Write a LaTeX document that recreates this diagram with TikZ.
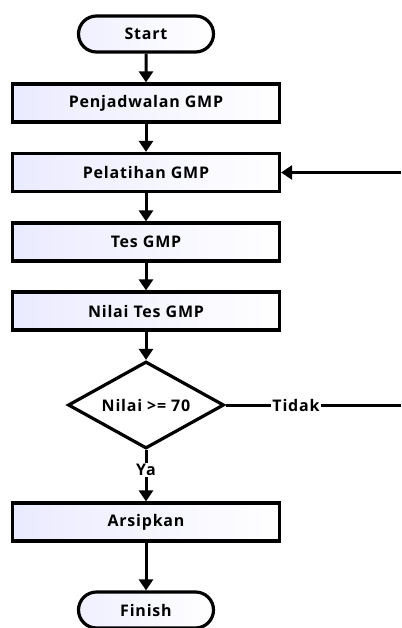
\documentclass[tikz,border=0pt]{standalone}
\usepackage{fontspec}
\setmainfont{Open Sans}
\newfontfamily\lblfont[LetterSpace=5]{Open Sans}
\usetikzlibrary{shapes.geometric,shapes.misc,arrows.meta}
\tikzset{
  txt/.style={font=\lblfont\bfseries\fontsize{16}{18}\selectfont},
  base/.style={draw=black,line width=3.2pt,txt,text=black,inner sep=0pt},
  proc/.style={base,rectangle,minimum width=267pt,minimum height=38pt,left color=blue!8,right color=white},
  term/.style={base,rounded rectangle,minimum width=135pt,minimum height=36pt,left color=blue!6,right color=white},
  dec/.style={base,diamond,aspect=1.8,minimum width=156pt,minimum height=87pt,fill=white},
  lbl/.style={txt,inner sep=1pt},
  arr/.style={line width=3pt,-{Triangle[length=11pt,width=14pt]}},
  ln/.style={line width=3pt}
}
\begin{document}
\begin{tikzpicture}[x=1pt,y=-1pt]
\useasboundingbox (0,0) rectangle (401,628);
\node[term] (start) at (146,34) {Start};
\node[proc] (jad) at (146,103) {Penjadwalan GMP};
\node[proc] (pel) at (146,172.5) {Pelatihan GMP};
\node[proc] (tes) at (146,242) {Tes GMP};
\node[proc] (nil) at (146,311) {Nilai Tes GMP};
\node[dec] (dec) at (146,405) {Nilai >= 70};
\node[lbl] (tidak) at (296,405) {Tidak};
\node[lbl] (ya) at (146,470) {Ya};
\node[proc] (ars) at (146,522) {Arsipkan};
\node[term] (fin) at (146,610) {Finish};
\coordinate (rin) at (401,172.5);
\coordinate (rout) at (401,405);
\draw[arr] (start) -- (jad);
\draw[arr] (jad) -- (pel);
\draw[arr] (pel) -- (tes);
\draw[arr] (tes) -- (nil);
\draw[arr] (nil) -- (dec);
\draw[ln] (dec.east) -- (tidak.west);
\draw[ln] (tidak.east) -- (rout);
\draw[arr] (rin) -- (pel.east);
\draw[ln] (dec.south) -- (ya.north);
\draw[arr] (ya.south) -- (ars.north);
\draw[arr] (ars) -- (fin);
\end{tikzpicture}
\end{document}
